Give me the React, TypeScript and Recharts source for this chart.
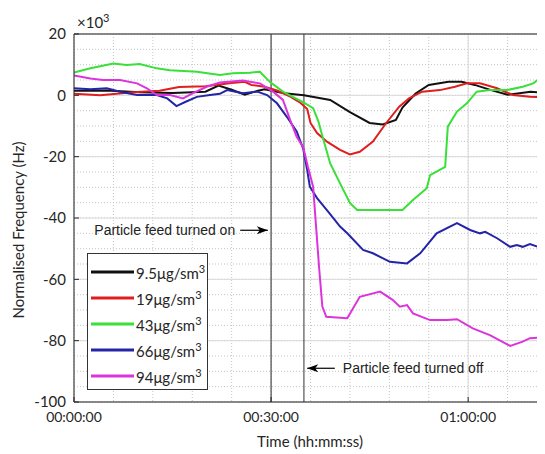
import { CartesianGrid, Line, LineChart, ReferenceLine, XAxis, YAxis } from 'recharts'

// [minutes, value ×10^3 Hz]
type Pt = [number, number]

const conc9_5: Pt[] = [
  [0, 1.5], [5, 1.6], [10, 1], [15, 0.8], [20, 1.2], [22, 3.2], [24, 1.8], [26, 0.2],
  [28, 1.5], [29, 2], [32, 0.7], [35, 0], [39, -1.5], [42, -5.5], [45, -9], [47, -9.5],
  [49, -8], [50, -4], [52, 0.6], [54, 3.4], [57, 4.4], [59, 4.4], [61, 3.4], [63.5, 1.7],
  [66, 0.2], [69.5, 1.2], [72, 0.8],
]

const conc19: Pt[] = [
  [0, 0.5], [4, 0], [9, 1], [13, 1.5], [16, 2.7], [20, 3], [24, 4], [26, 4.4], [27, 3.4],
  [29, 2.8], [31, 1.5], [33, -0.5], [34.5, -2.5], [35.5, -4.5], [36, -9], [37, -12.3],
  [38.5, -15.1], [40.5, -17.8], [42, -19.3], [43.5, -18.4], [45.5, -15.1], [47.5, -9.1],
  [49.5, -3.7], [51, -1], [53, 1.2], [55.7, 1.7], [58, 2.8], [59.8, 3.9], [61.8, 3.9],
  [64.4, 2.3], [66.8, 0.1], [69.4, -0.5], [72, -0.7],
]

const conc43: Pt[] = [
  [0, 7.4], [2.5, 8.8], [6, 10.4], [8, 9.9], [10, 10.2], [12.6, 8.8], [14.6, 8.2],
  [18.7, 7.7], [22.2, 6.6], [24.2, 7.2], [26.8, 7.4], [28.3, 7.7], [29.8, 4.4],
  [31.8, 1.2], [33.3, -0.5], [34.8, -2.1], [36.4, -4.2], [37.2, -8.5], [37.9, -14],
  [39, -22.2], [40.5, -28.7], [42, -35.1], [43.1, -37.4], [50, -37.4], [51.6, -34.1],
  [53.7, -30.3], [54.2, -26], [56.5, -23.3], [56.9, -10.2], [58.3, -5.3], [59.8, -2.6],
  [61.3, 1.2], [63.3, 1.7], [65.9, 1.7], [68.3, 2.8], [69.9, 3.9], [70.9, 5.5], [72, 5.5],
]

const conc66: Pt[] = [
  [0, 2.3], [2.5, 2], [5, 2.3], [7, 1.2], [9.6, 0.1], [12.6, 0.1], [14.2, -1], [15.6, -3.5],
  [17, -2.1], [18.7, -0.5], [20.7, 0.1], [22.2, 0.5], [23.3, 1.7], [25.7, 0.7], [27.9, 1.2],
  [29.4, 0.1], [30.9, -2.6], [32.4, -7], [33.9, -11.8], [34.9, -17.5], [35.5, -24.4],
  [35.9, -29.8], [37, -33.5], [38.9, -38.5], [40.5, -42.8], [41.6, -45], [44, -50.4],
  [45.5, -51.5], [48.1, -54.3], [50.7, -54.8], [52.7, -51.5], [55.2, -45], [58.3, -41.7],
  [60.3, -43.9], [61.8, -45], [62.6, -44.5], [64.4, -46.6], [66.4, -49.4], [67.4, -48.8],
  [68.3, -49.4], [69.4, -48.5], [72, -50.4],
]

const conc94: Pt[] = [
  [0, 6.5], [2.5, 5.5], [4.4, 5], [7, 5], [9.6, 3.9], [11.1, 2.3], [12.6, 0.1], [14.6, 0.1],
  [16.6, -1], [18.1, 0.7], [20.2, 2.8], [22.2, 4.2], [25.7, 4.8], [28.3, 3.9], [30.3, 1.2],
  [31.8, -1.5], [32.9, -8], [33.9, -13.5], [34.9, -17], [35.6, -23.3], [36.4, -29.8],
  [36.7, -38.5], [37.3, -55.9], [37.8, -68.9], [38.4, -72.2], [41.6, -72.7], [43.5, -65.7],
  [46.6, -64], [48.5, -66.7], [49.6, -68.9], [50.7, -68.4], [51.6, -71.1], [54.2, -73.3],
  [56.8, -73.3], [58.3, -73], [60.7, -76], [63.3, -78.2], [66.4, -81.7], [68.3, -80.3],
  [69.4, -79.2], [72, -78.9],
]

const seriesData = [conc9_5, conc19, conc43, conc66, conc94]
const seriesNames = ['9.5μg/sm', '19μg/sm', '43μg/sm', '66μg/sm', '94μg/sm']
const seriesColors = ['#111111', '#e01e1e', '#38e038', '#2424a8', '#dc34dc']

const xGridTicks = [0, 6, 12, 18, 24, 30, 36, 42, 48, 54, 60, 66, 72]
const xMajorTicks = [0, 30, 60]
const yGridTicks = [-100, -95, -90, -85, -80, -75, -70, -65, -60, -55, -50, -45, -40, -35, -30, -25, -20, -15, -10, -5, 0, 5, 10, 15, 20]
const yMajorTicks = [-100, -80, -60, -40, -20, 0, 20]

const feedOn = 30
const feedOff = 35
const onArrow: Pt[] = [[25.3, -44], [29.5, -44]]
const offArrow: Pt[] = [[35.5, -89], [39.7, -89]]

const AXIS = '#262626'
const TICK_FONT = 'Lato, "Open Sans", sans-serif'
const NOTE_FONT = '"Liberation Sans", Arial, sans-serif'

const hms = (m: number) =>
  `${String(Math.floor(m / 60)).padStart(2, '0')}:${String(m % 60).padStart(2, '0')}:00`

function arrowShape(text: string, headAtEnd: boolean) {
  return (p: any) => {
    const { x1, y1, x2, y2 } = p
    const hx = headAtEnd ? x2 : x1
    const d = headAtEnd ? -1 : 1
    return (
      <g>
        <line x1={x1} y1={y1} x2={x2} y2={y2} stroke="#000" strokeWidth={1.2} />
        <polygon
          points={`${hx},${y1} ${hx + d * 11},${y1 - 4} ${hx + d * 8},${y1} ${hx + d * 11},${y1 + 4}`}
          fill="#000"
        />
        <text
          x={headAtEnd ? x1 - 5 : x2 + 8}
          y={y1}
          dy="0.35em"
          textAnchor={headAtEnd ? 'end' : 'start'}
          fontSize={14}
          fontFamily={NOTE_FONT}
          fill="#222"
        >
          {text}
        </text>
      </g>
    )
  }
}

export default function App() {
  return (
    <div style={{ position: 'relative', width: 537, height: 446, overflow: 'hidden', background: '#fff' }}>
      <LineChart width={560} height={446} margin={{ top: 26, right: 21, bottom: 22, left: 0 }}>
        <CartesianGrid
          stroke="#c4c4c4"
          strokeDasharray="1 2"
          horizontalValues={yGridTicks}
          verticalValues={xGridTicks}
        />
        {xMajorTicks.map((t) => (
          <ReferenceLine key={'vx' + t} x={t} stroke="#dadada" strokeWidth={1} />
        ))}
        {yMajorTicks.map((v) => (
          <ReferenceLine key={'hy' + v} y={v} stroke="#dadada" strokeWidth={1} />
        ))}
        <XAxis
          type="number"
          dataKey="t"
          domain={[0, 72]}
          ticks={xMajorTicks}
          interval={0}
          tickFormatter={hms}
          tickSize={-5}
          tickMargin={15}
          height={30}
          stroke={AXIS}
          tick={{ fontSize: 14, fill: AXIS, fontFamily: TICK_FONT }}
          allowDataOverflow
        />
        <YAxis
          type="number"
          domain={[-100, 20]}
          ticks={yMajorTicks}
          interval={0}
          tickSize={-5}
          tickMargin={13}
          width={66}
          stroke={AXIS}
          tick={{ fontSize: 15, fill: AXIS, fontFamily: TICK_FONT }}
          allowDataOverflow
        />
        <ReferenceLine y={20} stroke={AXIS} strokeWidth={1} />
        <ReferenceLine x={feedOn} stroke="#333" strokeWidth={1} />
        <ReferenceLine x={feedOff} stroke="#333" strokeWidth={1} />
        {seriesData.map((s, i) => (
          <Line
            key={seriesNames[i]}
            data={s.map(([t, v]) => ({ t, v }))}
            dataKey="v"
            type="linear"
            stroke={seriesColors[i]}
            strokeWidth={2}
            dot={false}
            activeDot={false}
            isAnimationActive={false}
          />
        ))}
        <ReferenceLine
          segment={onArrow.map(([x, y]) => ({ x, y }))}
          shape={arrowShape('Particle feed turned on', true)}
        />
        <ReferenceLine
          segment={offArrow.map(([x, y]) => ({ x, y }))}
          shape={arrowShape('Particle feed turned off', false)}
        />
      </LineChart>

      {/* exponent marker */}
      <div style={{ position: 'absolute', left: 69, top: 3, fontFamily: TICK_FONT, fontSize: 15, color: AXIS }}>
        ×10<sup style={{ fontSize: 11 }}>3</sup>
      </div>

      {/* axis titles */}
      <div
        style={{
          position: 'absolute', left: 10, top: 222, transform: 'translate(-50%, -50%) rotate(-90deg)',
          whiteSpace: 'nowrap', fontFamily: TICK_FONT, fontSize: 15, color: AXIS,
        }}
      >
        Normalised Frequency (Hz)
      </div>
      <div
        style={{
          position: 'absolute', left: 302, top: 433, transform: 'translate(-50%, -50%)',
          whiteSpace: 'nowrap', fontFamily: TICK_FONT, fontSize: 15, color: AXIS,
        }}
      >
        Time (hh:mm:ss)
      </div>

      {/* legend */}
      <div
        style={{
          position: 'absolute', left: 79, top: 245, width: 121, height: 137, background: '#fff',
          border: '1px solid #333', paddingTop: 5, boxSizing: 'border-box',
        }}
      >
        {seriesNames.map((n, i) => (
          <div key={n} style={{ display: 'flex', alignItems: 'center', height: 26 }}>
            <svg width={48} height={6} style={{ flex: 'none' }}>
              <line x1={3} y1={3} x2={46} y2={3} stroke={seriesColors[i]} strokeWidth={3} />
            </svg>
            <span style={{ fontFamily: TICK_FONT, fontSize: 15, color: AXIS, whiteSpace: 'nowrap' }}>
              {n}
              <sup style={{ fontSize: 11 }}>3</sup>
            </span>
          </div>
        ))}
      </div>
    </div>
  )
}
